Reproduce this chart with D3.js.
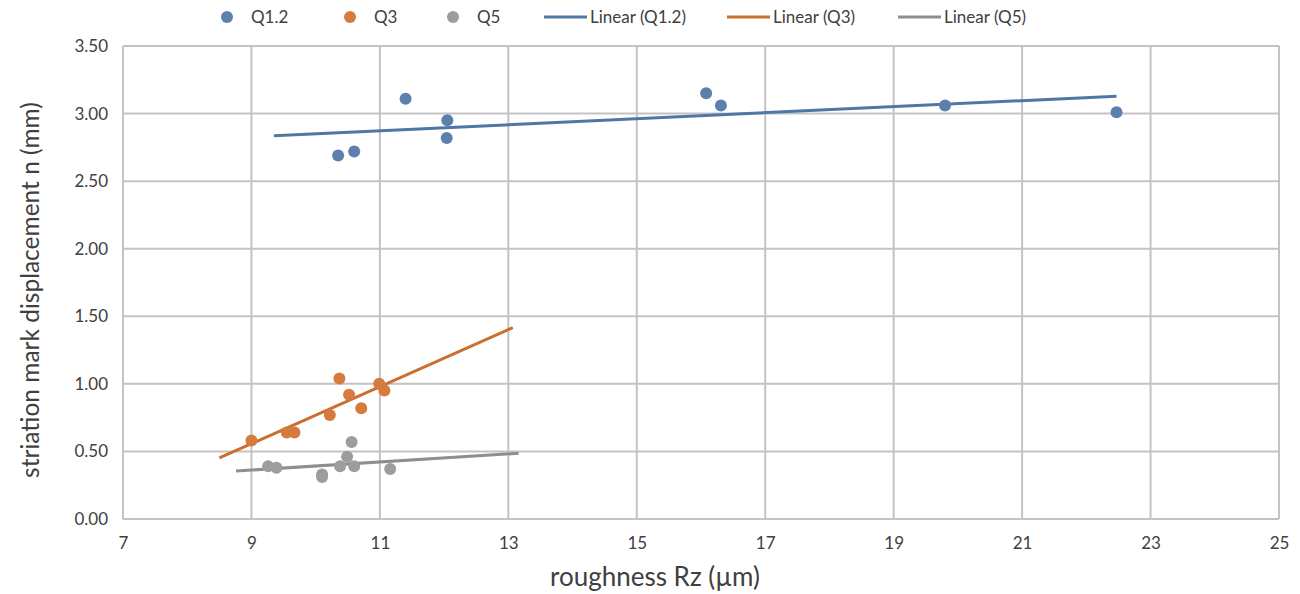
<!DOCTYPE html>
<html>
<head>
<meta charset="utf-8">
<script src="https://cdn.jsdelivr.net/npm/d3@7"></script>
<style>
  body { margin: 0; background: #fff; }
  text { font-family: Lato, "Open Sans", sans-serif; fill: #404040; }
</style>
</head>
<body>
<div id="chart"></div>
<script>
"use strict";

// series values
var seriesNames = ["Q1.2", "Q3", "Q5"];
var q12X = [10.35, 10.60, 11.40, 12.05, 12.04, 16.08, 16.31, 19.80, 22.47];
var q12Y = [2.69, 2.72, 3.11, 2.95, 2.82, 3.15, 3.06, 3.06, 3.01];
var q3X = [9.00, 9.55, 9.67, 10.22, 10.37, 10.52, 10.71, 10.99, 11.07];
var q3Y = [0.58, 0.64, 0.64, 0.77, 1.04, 0.92, 0.82, 1.00, 0.95];
var q5X = [9.26, 9.39, 10.10, 10.10, 10.38, 10.49, 10.56, 10.60, 11.16];
var q5Y = [0.39, 0.38, 0.33, 0.31, 0.39, 0.46, 0.57, 0.39, 0.37];

// trendline forecast (backward, forward) in x units
var trendBackward = [1.0, 0.5, 0.5];
var trendForward = [0, 2, 2];

var xTicks = [7, 9, 11, 13, 15, 17, 19, 21, 23, 25];
var yTicks = [0, 0.5, 1, 1.5, 2, 2.5, 3, 3.5];

var dotColors = ["#5b80ae", "#d57b3d", "#9d9d9d"];
var lineColors = ["#4f77a6", "#c96f2f", "#8e8e8e"];

var width = 1300, height = 594;
var margin = { top: 46, right: 21, bottom: 75, left: 123 };

var svg = d3.select("#chart").append("svg").attr("width", width).attr("height", height);

var x = d3.scaleLinear().domain([7, 25]).range([margin.left, width - margin.right]);
var y = d3.scaleLinear().domain([0, 3.5]).range([height - margin.bottom, margin.top]);

// grid
svg.append("g").selectAll("line").data(xTicks).enter().append("line")
  .attr("x1", function (d) { return x(d); }).attr("x2", function (d) { return x(d); })
  .attr("y1", y(0)).attr("y2", y(3.5))
  .style("stroke", "#c3c3c3").style("stroke-width", 2);
svg.append("g").selectAll("line").data(yTicks).enter().append("line")
  .attr("y1", function (d) { return y(d); }).attr("y2", function (d) { return y(d); })
  .attr("x1", x(7)).attr("x2", x(25))
  .style("stroke", "#c3c3c3").style("stroke-width", 2);

// axes labels via d3 axes, domain hidden
var xAxis = svg.append("g").attr("transform", "translate(0," + y(0) + ")")
  .call(d3.axisBottom(x).tickValues(xTicks).tickSize(0).tickPadding(18).tickFormat(d3.format("d")));
var yAxis = svg.append("g").attr("transform", "translate(" + x(7) + ",0)")
  .call(d3.axisLeft(y).tickValues(yTicks).tickSize(0).tickPadding(15).tickFormat(d3.format(".2f")));
[xAxis, yAxis].forEach(function (a) {
  a.select(".domain").remove();
  a.selectAll("text").style("font-size", "17px").style("fill", "#404040")
    .style("font-family", "Lato, 'Open Sans', sans-serif");
});

// axis titles
svg.append("text").attr("x", 655).attr("y", 586).attr("text-anchor", "middle")
  .style("font-size", "26px").text("roughness Rz (µm)");
svg.append("text").attr("transform", "translate(39,290) rotate(-90)")
  .attr("text-anchor", "middle").style("font-size", "24.5px")
  .text("striation mark displacement n (mm)");

// least squares fit
function fit(xs, ys) {
  var mx = d3.mean(xs), my = d3.mean(ys);
  var sxy = d3.sum(xs, function (v, i) { return (v - mx) * (ys[i] - my); });
  var sxx = d3.sum(xs, function (v) { return (v - mx) * (v - mx); });
  var b = sxy / sxx;
  return { slope: b, intercept: my - b * mx };
}

var allX = [q12X, q3X, q5X];
var allY = [q12Y, q3Y, q5Y];

// trendlines
allX.forEach(function (xs, s) {
  var f = fit(xs, allY[s]);
  var x0 = d3.min(xs) - trendBackward[s], x1 = d3.max(xs) + trendForward[s];
  svg.append("line")
    .attr("x1", x(x0)).attr("y1", y(f.intercept + f.slope * x0))
    .attr("x2", x(x1)).attr("y2", y(f.intercept + f.slope * x1))
    .style("stroke", lineColors[s]).style("stroke-width", 3);
});

// points
allX.forEach(function (xs, s) {
  svg.append("g").selectAll("circle").data(xs).enter().append("circle")
    .attr("cx", function (d) { return x(d); })
    .attr("cy", function (d, i) { return y(allY[s][i]); })
    .attr("r", 6)
    .style("fill", dotColors[s]);
});

// legend
var legend = svg.append("g").attr("transform", "translate(0,17)");
var dotPos = [227, 350, 453];
seriesNames.forEach(function (n, i) {
  legend.append("circle").attr("cx", dotPos[i]).attr("cy", 0).attr("r", 6).style("fill", dotColors[i]);
  legend.append("text").attr("x", dotPos[i] + 24).attr("y", 6).style("font-size", "17px").text(n);
});
var linePos = [544, 727, 898];
seriesNames.forEach(function (n, i) {
  legend.append("line").attr("x1", linePos[i]).attr("x2", linePos[i] + 43).attr("y1", 0).attr("y2", 0)
    .style("stroke", lineColors[i]).style("stroke-width", 3);
  legend.append("text").attr("x", linePos[i] + 46).attr("y", 6).style("font-size", "17px").text("Linear (" + n + ")");
});
</script>
</body>
</html>
